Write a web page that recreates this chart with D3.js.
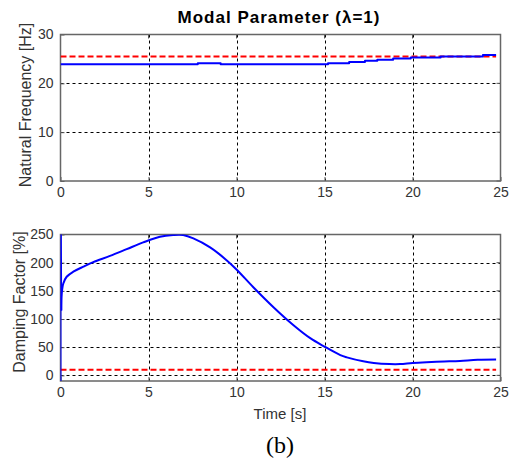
<!DOCTYPE html>
<html>
<head>
<meta charset="utf-8">
<script src="https://cdn.jsdelivr.net/npm/d3@7"></script>
<style>
  html, body { margin: 0; padding: 0; background: #fff; }
  svg { display: block; }
</style>
</head>
<body>
<svg id="chart" width="510" height="462"></svg>
<script>
// Time axis ticks (shared by both panels)
const timeTicks = [0, 5, 10, 15, 20, 25];
const freqTicks = [0, 10, 20, 30];
const dampTicks = [0, 50, 100, 150, 200, 250];

// Natural frequency estimate (step-wise), [Hz]
const freqTime  = [0, 7.8, 9.1, 15.2, 16.4, 17.3, 18.0, 18.9, 19.9, 21.6, 24.0, 24.75];
const freqValue = [23.9, 24.1, 23.9, 24.1, 24.35, 24.6, 24.85, 25.1, 25.3, 25.5, 25.8, 25.8];

// Damping factor estimate, [%] (first two samples: start-up transient)
const dampTime  = [0, 0, 0.04, 0.07, 0.16, 0.35, 0.73, 1.3, 1.86, 2.81, 3.76, 4.7, 5.65, 6.4, 6.97,
                   7.55, 8.5, 9.45, 10, 10.97, 12.1, 13.24, 14.19, 15, 15.9, 16.27, 17.2, 17.8,
                   18.7, 19.3, 20, 20.8, 21.8, 22.7, 23.7, 24.75];
const dampValue = [-20, 400, 115, 145, 163, 175, 184, 193, 201, 212, 224, 236, 246, 249, 249,
                   243, 227, 204, 188, 156, 121, 89, 66, 51, 36, 32, 25, 22,
                   20, 20, 22, 23.4, 24.6, 25.7, 27.5, 28];

// Reference (true) values
const refTime = [0, 24.75];
const freqRef = [25.5, 25.5];
const dampRef = [10, 10];

const SANS = "'Liberation Sans', Arial, sans-serif";
const SERIF = "'Liberation Serif', 'Times New Roman', serif";

const svg = d3.select("#chart");
const left = 60.5, right = 500.5;

const x = d3.scaleLinear().domain([0, 25]).range([left, right]);

const panels = [
  {
    id: "freq", top: 34.5, bottom: 181,
    domain: [0, 30], ticks: freqTicks, label: "Natural Frequency [Hz]", labelX: 31, labelY: 105,
    t: freqTime, v: freqValue, curve: d3.curveStepAfter, split: 0,
    ref: freqRef
  },
  {
    id: "damp", top: 234.5, bottom: 381,
    domain: [-10, 250], ticks: dampTicks, label: "Damping Factor [%]", labelX: 25, labelY: 302,
    t: dampTime, v: dampValue, curve: d3.curveCatmullRom.alpha(0.5), split: 2,
    ref: dampRef
  }
];

panels.forEach(p => {
  const y = d3.scaleLinear().domain(p.domain).range([p.bottom, p.top]);
  const g = svg.append("g");

  svg.append("clipPath").attr("id", "clip-" + p.id)
    .append("rect").attr("x", left).attr("y", p.top)
    .attr("width", right - left).attr("height", p.bottom - p.top);

  // grid
  g.append("g").selectAll("line").data(timeTicks.filter(d => d > 0 && d < 25)).join("line")
    .attr("x1", d => Math.round(x(d)) + 0.5).attr("x2", d => Math.round(x(d)) + 0.5)
    .attr("y1", p.top).attr("y2", p.bottom)
    .attr("stroke", "#000").attr("stroke-width", 1).attr("stroke-dasharray", "3,3");
  g.append("g").selectAll("line").data(p.ticks.filter(d => y(d) > p.top + 1 && y(d) < p.bottom - 1)).join("line")
    .attr("x1", left).attr("x2", right)
    .attr("y1", d => Math.round(y(d)) + 0.5).attr("y2", d => Math.round(y(d)) + 0.5)
    .attr("stroke", "#000").attr("stroke-width", 1).attr("stroke-dasharray", "3,3");

  // axes
  const xAxis = d3.axisBottom(x).tickValues(timeTicks).tickSize(-4).tickPadding(6).tickSizeOuter(0);
  const yAxis = d3.axisLeft(y).tickValues(p.ticks).tickSize(-4).tickPadding(7).tickSizeOuter(0);
  const xa = g.append("g").attr("transform", `translate(0,${p.bottom})`).call(xAxis);
  const ya = g.append("g").attr("transform", `translate(${left},0)`).call(yAxis);
  [xa, ya].forEach(a => {
    a.attr("font-family", null).attr("font-size", null);
    a.select(".domain").remove();
    a.selectAll(".tick line").attr("stroke", "#555");
    a.selectAll("text").style("font-size", "14px").style("font-family", SANS).attr("fill", "#333");
  });
  // top / right ticks
  g.append("g").selectAll("line").data(timeTicks).join("line")
    .attr("x1", d => x(d)).attr("x2", d => x(d))
    .attr("y1", p.top).attr("y2", p.top + 4).attr("stroke", "#555");
  g.append("g").selectAll("line").data(p.ticks).join("line")
    .attr("x1", right).attr("x2", right - 4)
    .attr("y1", d => y(d)).attr("y2", d => y(d)).attr("stroke", "#555");

  // box
  g.append("rect").attr("x", left).attr("y", p.top)
    .attr("width", right - left).attr("height", p.bottom - p.top)
    .attr("fill", "none").attr("stroke", "#666").attr("stroke-width", 1.5);

  const plot = g.append("g").attr("clip-path", `url(#clip-${p.id})`);

  // reference line
  plot.append("path")
    .datum(refTime.map((t, i) => [t, p.ref[i]]))
    .attr("d", d3.line().x(d => x(d[0])).y(d => y(d[1])))
    .attr("fill", "none").attr("stroke", "#ff0000").attr("stroke-width", 2)
    .attr("stroke-dasharray", "6,3");

  // estimate: optional linear start-up segment, then the smooth/step curve
  const pts = p.t.map((t, i) => [t, p.v[i]]);
  if (p.split > 0) {
    plot.append("path")
      .datum(pts.slice(0, p.split + 1))
      .attr("d", d3.line().x(d => x(d[0])).y(d => y(d[1])))
      .attr("fill", "none").attr("stroke", "#0000ff").attr("stroke-width", 2)
      .attr("stroke-linejoin", "round");
  }
  plot.append("path")
    .datum(pts.slice(p.split))
    .attr("d", d3.line().curve(p.curve).x(d => x(d[0])).y(d => y(d[1])))
    .attr("fill", "none").attr("stroke", "#0000ff").attr("stroke-width", 2)
    .attr("stroke-linejoin", "round");

  // y label
  svg.append("text")
    .attr("transform", `translate(${p.labelX},${p.labelY}) rotate(-90)`)
    .attr("text-anchor", "middle").style("font-size", "16px").style("font-family", SANS)
    .attr("fill", "#333")
    .text(p.label);
});

// title
svg.append("text").attr("x", 279).attr("y", 23).attr("text-anchor", "middle")
  .style("font-size", "17px").style("font-weight", "bold").style("font-family", SANS)
  .style("letter-spacing", "1px").attr("fill", "#000")
  .text("Modal Parameter (λ=1)");

// x label
svg.append("text").attr("x", 280).attr("y", 419).attr("text-anchor", "middle")
  .style("font-size", "15px").style("font-family", SANS).attr("fill", "#333").text("Time [s]");

// caption
svg.append("text").attr("x", 280).attr("y", 453).attr("text-anchor", "middle")
  .style("font-size", "24px").style("font-family", SERIF)
  .attr("fill", "#000").text("(b)");
</script>
</body>
</html>
